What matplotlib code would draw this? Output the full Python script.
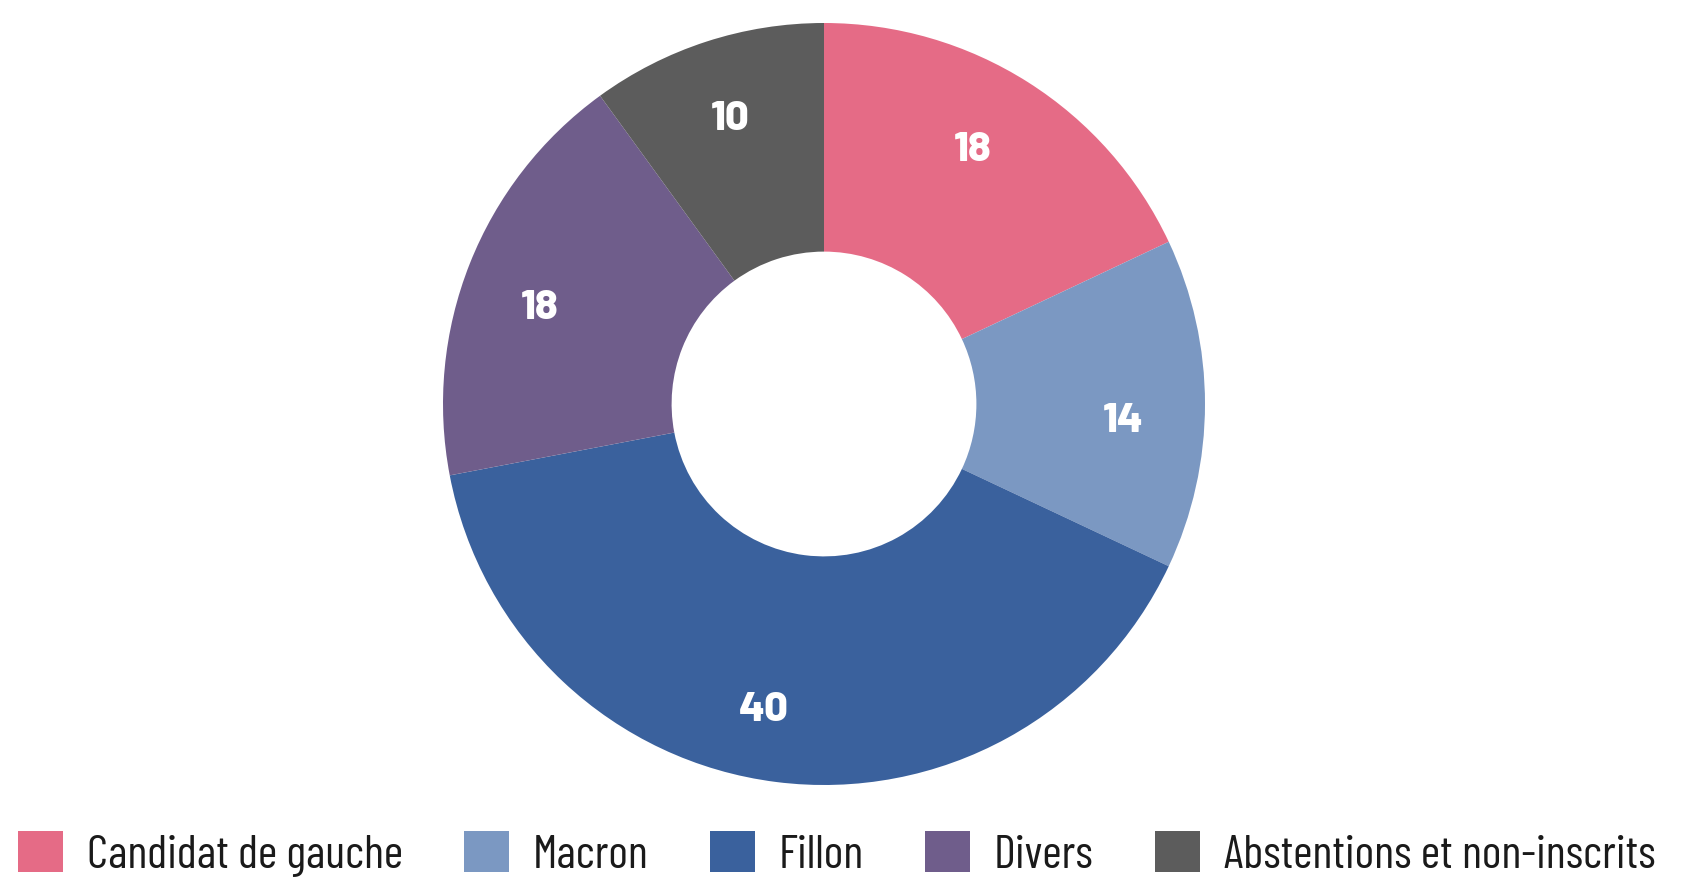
import matplotlib
matplotlib.use("Agg")
import matplotlib.pyplot as plt
import numpy as np

categories = ["Candidat de gauche", "Macron", "Fillon", "Divers", "Abstentions et non-inscrits"]
values = [18, 14, 40, 18, 10]
colors = ["#E56B86", "#7B98C2", "#3A619D", "#6F5D8B", "#5C5C5C"]

# small angular nudges (degrees) of the value labels, as placed in the original
label_nudge = [2.3, -2.5, -4.0, 2.3, 0.0]
label_dist = [0.78, 0.785, 0.81, 0.79, 0.795]

plt.rcParams["font.family"] = ["Barlow Condensed", "DejaVu Sans"]
LABEL_FONT = ["Barlow", "Barlow Semi Condensed", "Barlow Condensed", "DejaVu Sans"]

W, H = 1692, 896
fig = plt.figure(figsize=(W / 100, H / 100), dpi=100)
fig.patch.set_facecolor("white")

cx, cy, R = 824, 404, 381
ax = fig.add_axes([(cx - R) / W, (H - cy - R) / H, 2 * R / W, 2 * R / H])

wedges, _ = ax.pie(
    values,
    colors=colors,
    startangle=90,
    counterclock=False,
    radius=1,
    wedgeprops=dict(width=0.6, linewidth=0),
)
for w, v, dn, rd in zip(wedges, values, label_nudge, label_dist):
    th = np.deg2rad((w.theta1 + w.theta2) / 2 + dn)
    ax.text(rd * np.cos(th), rd * np.sin(th), str(v), color="white",
            fontsize=30, fontweight=800, family=LABEL_FONT,
            ha="center", va="center_baseline")
ax.set_xlim(-1, 1)
ax.set_ylim(-1, 1)
ax.axis("off")

fs = 33.8
px = fs * 100 / 72
leg = fig.legend(
    wedges,
    categories,
    loc="center left",
    bbox_to_anchor=(18 / W, 1 - 854 / H),
    bbox_transform=fig.transFigure,
    ncol=5,
    frameon=False,
    fontsize=fs,
    handlelength=45 / px,
    handleheight=45 / px,
    handletextpad=24 / px,
    columnspacing=61 / px,
    borderpad=0,
    borderaxespad=0,
)
for t in leg.get_texts():
    t.set_color("#1a1a1a")

fig.savefig("out.png", dpi=100, facecolor="white")
